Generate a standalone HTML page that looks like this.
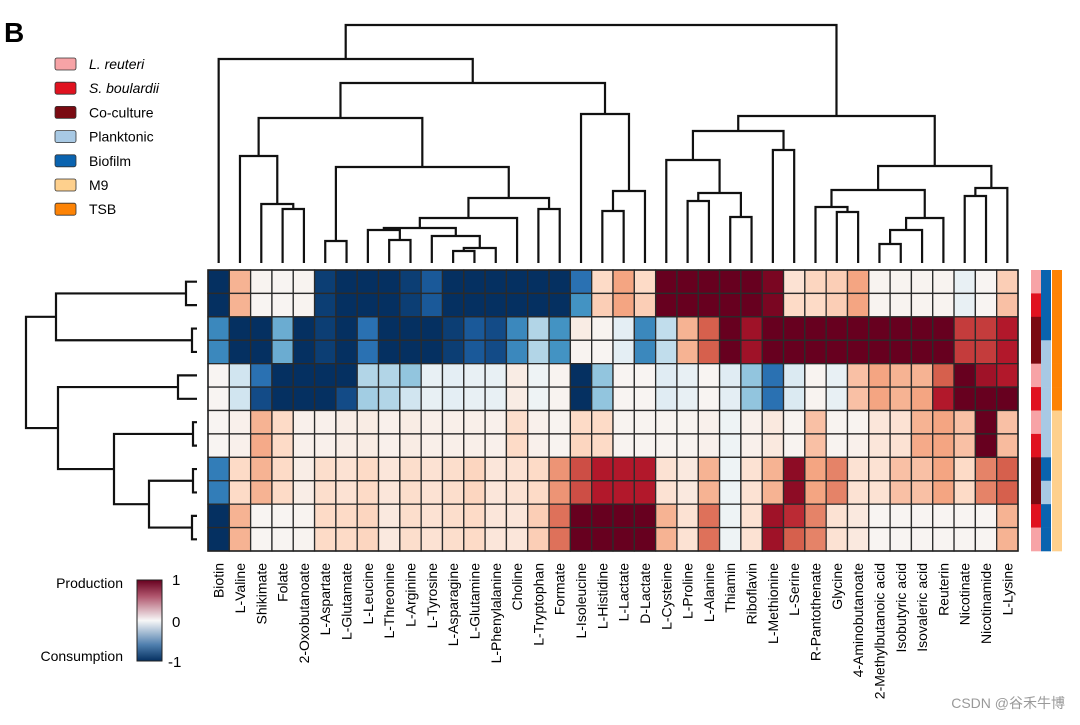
<!DOCTYPE html>
<html><head><meta charset="utf-8"><style>
html,body{margin:0;padding:0;background:#fff;}
svg text{font-family:"Liberation Sans","Noto Sans CJK SC",sans-serif;}
</style></head><body>
<svg id="chart" width="1080" height="720" viewBox="0 0 1080 720" xmlns="http://www.w3.org/2000/svg">
<defs><linearGradient id="cbar" x1="0" y1="1" x2="0" y2="0">
<stop offset="0" stop-color="#053061"/><stop offset="0.2" stop-color="#4f7fae"/><stop offset="0.5" stop-color="#f7f7f7"/><stop offset="0.8" stop-color="#b0566d"/><stop offset="1" stop-color="#67001f"/>
</linearGradient></defs>
<text x="4" y="42" font-size="28" font-weight="bold">B</text>
<g id="legend"></g>
<g id="topdendro"></g>
<g id="leftdendro"></g>
<g id="cells"></g>
<g id="annot"></g>
<g id="xlabels"></g>
<g>
<rect x="137" y="580" width="25" height="81" fill="url(#cbar)" stroke="#222" stroke-width="1"/>
<text x="172" y="585" font-size="15">1</text>
<text x="172" y="627" font-size="15">0</text>
<text x="168" y="667" font-size="15">-1</text>
<text x="123" y="588" font-size="14" text-anchor="end">Production</text>
<text x="123" y="661" font-size="14" text-anchor="end">Consumption</text>
</g>
<text x="1065" y="708" font-size="14" fill="#999" text-anchor="end">CSDN @谷禾牛博</text>
</svg>
<script>
const columns = ["Biotin","L-Valine","Shikimate","Folate","2-Oxobutanoate","L-Aspartate","L-Glutamate","L-Leucine","L-Threonine","L-Arginine","L-Tyrosine","L-Asparagine","L-Glutamine","L-Phenylalanine","Choline","L-Tryptophan","Formate","L-Isoleucine","L-Histidine","L-Lactate","D-Lactate","L-Cysteine","L-Proline","L-Alanine","Thiamin","Riboflavin","L-Methionine","L-Serine","R-Pantothenate","Glycine","4-Aminobutanoate","2-Methylbutanoic acid","Isobutyric acid","Isovaleric acid","Reuterin","Nicotinate","Nicotinamide","L-Lysine"];
const row0 = [-1,0.35,0.03,0.02,0.03,-0.95,-1,-1,-1,-0.95,-0.85,-1,-1,-1,-1,-1,-1,-0.75,0.2,0.4,0.2,1,1,1,1,1,0.95,0.15,0.22,0.25,0.4,0.03,0.03,0.03,0.03,-0.08,0.02,0.25];
const row1 = [-1,0.35,0.02,0.02,0.03,-0.95,-1,-1,-1,-0.95,-0.85,-1,-1,-1,-1,-1,-1,-0.6,0.25,0.4,0.25,1,1,1,1,1,0.95,0.2,0.2,0.25,0.4,0.03,0.03,0.03,0.03,-0.08,0.02,0.3];
const row2 = [-0.65,-1,-1,-0.5,-1,-0.95,-1,-0.75,-1,-1,-1,-0.95,-0.85,-0.9,-0.65,-0.3,-0.6,0.08,0.03,-0.1,-0.65,-0.25,0.35,0.6,1,0.85,1,1,1,1,1,1,1,1,1,0.7,0.7,0.8];
const row3 = [-0.65,-1,-1,-0.5,-1,-0.95,-1,-0.75,-1,-1,-1,-0.95,-0.85,-0.9,-0.65,-0.3,-0.6,0.03,0.02,-0.1,-0.65,-0.25,0.35,0.6,1,0.85,1,1,1,1,1,1,1,1,1,0.7,0.7,0.8];
const row4 = [0.02,-0.2,-0.75,-1,-1,-1,-1,-0.3,-0.3,-0.4,-0.08,-0.1,-0.08,-0.08,0.08,-0.05,0.03,-1,-0.4,0.02,0.02,-0.12,-0.08,0.02,-0.12,-0.4,-0.75,-0.15,0.03,-0.08,0.3,0.4,0.35,0.35,0.6,1,0.85,0.8];
const row5 = [0.02,-0.2,-0.9,-1,-1,-1,-0.9,-0.35,-0.3,-0.2,-0.08,-0.1,-0.08,-0.08,0.08,-0.05,0.03,-1,-0.4,0.02,0.02,-0.12,-0.08,0.02,-0.1,-0.4,-0.75,-0.15,0.03,-0.08,0.3,0.4,0.35,0.4,0.8,1,1,1];
const row6 = [0.02,0.05,0.35,0.2,0.05,0.05,0.07,0.08,0.05,0.08,0.06,0.06,0.06,0.05,0.18,0.05,0.03,0.2,0.2,0.03,0.03,0.03,0.03,0.05,-0.05,0.05,0.1,0.03,0.3,0.03,0.03,0.12,0.15,0.35,0.4,0.3,1,0.3];
const row7 = [0.02,0.05,0.38,0.2,0.05,0.05,0.07,0.08,0.05,0.08,0.06,0.06,0.06,0.05,0.2,0.05,0.03,0.22,0.2,0.03,0.03,0.03,0.03,0.05,-0.05,0.05,0.1,0.03,0.3,0.03,0.05,0.12,0.15,0.38,0.4,0.3,1,0.32];
const row8 = [-0.7,0.2,0.35,0.2,0.07,0.18,0.15,0.2,0.12,0.18,0.15,0.18,0.22,0.12,0.15,0.2,0.45,0.65,0.8,0.8,0.8,0.15,0.1,0.35,-0.05,0.15,0.35,0.9,0.4,0.5,0.15,0.15,0.3,0.3,0.4,0.2,0.5,0.6];
const row9 = [-0.7,0.2,0.35,0.2,0.07,0.18,0.15,0.2,0.12,0.18,0.15,0.18,0.22,0.12,0.15,0.2,0.45,0.65,0.8,0.8,0.8,0.15,0.1,0.35,-0.05,0.15,0.35,0.9,0.4,0.5,0.15,0.15,0.3,0.3,0.4,0.2,0.5,0.6];
const row10 = [-1,0.35,0.02,0.02,0.03,0.2,0.2,0.22,0.1,0.18,0.15,0.18,0.2,0.12,0.12,0.25,0.55,1,1,1,1,0.35,0.15,0.55,-0.05,0.15,0.85,0.75,0.5,0.15,0.1,0.02,0.02,0.02,0.02,0.02,0.02,0.35];
const row11 = [-1,0.35,0.02,0.02,0.03,0.2,0.2,0.22,0.1,0.18,0.15,0.18,0.2,0.12,0.12,0.25,0.55,1,1,1,1,0.35,0.15,0.55,-0.05,0.15,0.85,0.6,0.5,0.15,0.1,0.02,0.02,0.02,0.02,0.02,0.02,0.35];
const matrix = [row0,row1,row2,row3,row4,row5,row6,row7,row8,row9,row10,row11];
const strain = ["LR","SB","CC","CC","LR","SB","LR","SB","CC","CC","SB","LR"];
const lifestyle = ["BF","BF","BF","PL","PL","PL","PL","PL","BF","PL","BF","BF"];
const media = ["TSB","TSB","TSB","TSB","TSB","TSB","M9","M9","M9","M9","M9","M9"];
const legendLabels = ["L. reuteri","S. boulardii","Co-culture","Planktonic","Biofilm","M9","TSB"];
// dendrogram merges: [left, right, height]
const colTree = [[0,[[[1,[2,[3,4,54],59],107],[[5,6,22],[[[[7,[8,9,23],33],[10,[[11,12,12],13,15],27],35],14,45],[15,16,54],65],96],145],[17,[[18,19,52],20,72],149],180],204],[[[21,[[22,23,62],[24,25,46],70],103],[26,27,113],132],[[[28,[29,30,51],56],[[[31,32,19],33,33],34,45],73],[[35,36,67],37,75],97],147],238];
const rowTree = [[[0,1,11],[2,3,5],141],[[4,5,19],[[6,7,4],[[8,9,4],[10,11,5],48],83],139],171];

const NS="http://www.w3.org/2000/svg";
const X0=208, Y0=270, GW=810, GH=281;
const cw=GW/columns.length, ch=GH/matrix.length;
const xPos=i=>X0+cw*(i+0.5), yPos=r=>Y0+ch*(r+0.5);
const stops=[[-1,[5,48,97]],[-0.8,[33,102,172]],[-0.6,[67,147,195]],[-0.4,[146,197,222]],[-0.2,[209,229,240]],[0,[247,247,247]],[0.2,[253,219,199]],[0.4,[244,165,130]],[0.6,[214,96,77]],[0.8,[178,24,43]],[1,[103,0,31]]];
function color(v){v=Math.max(-1,Math.min(1,v));for(let i=0;i<stops.length-1;i++){const a=stops[i],b=stops[i+1];if(v<=b[0]){const t=(v-a[0])/(b[0]-a[0]);return "rgb("+a[1].map((c,k)=>Math.round(c+(b[1][k]-c)*t)).join(",")+")";}}return "rgb(103,0,31)";}
function mk(tag,attrs,parent){const e=document.createElementNS(NS,tag);for(const k in attrs)e.setAttribute(k,attrs[k]);parent.appendChild(e);return e;}

const cells=document.getElementById("cells");
matrix.forEach((row,r)=>row.forEach((v,c)=>{
  const e=mk("rect",{x:X0+c*cw,y:Y0+r*ch,width:cw,height:ch,fill:color(v),stroke:"#2b2b2b","stroke-width":1.3},cells);
  
  
}));
const ob=mk("rect",{x:X0,y:Y0,width:GW,height:GH,fill:"none",stroke:"#222","stroke-width":1.5},cells);



const xl=document.getElementById("xlabels");
columns.forEach((name,i)=>{
  const x=xPos(i)+5,y=563;
  const t=mk("text",{x:x,y:y,"font-size":14,"text-anchor":"end",transform:"rotate(-90 "+x+" "+y+")"},xl);
  t.textContent=name;
  
  
});

// top dendrogram
const td=document.getElementById("topdendro");
const TBASE=263;
function drawTop(n){
  if(typeof n==="number"){return [xPos(n),TBASE];}
  const a=drawTop(n[0]),b=drawTop(n[1]),y=TBASE-n[2];
  const p=mk("path",{d:"M"+a[0]+","+a[1]+"V"+y+"H"+b[0]+"V"+b[1],fill:"none",stroke:"#111","stroke-width":2.2},td);
  
  
  return [(a[0]+b[0])/2,y];
}
drawTop(colTree);
// left dendrogram
const ld=document.getElementById("leftdendro");
const LBASE=197;
function drawLeft(n){
  if(typeof n==="number"){return [LBASE,yPos(n)];}
  const a=drawLeft(n[0]),b=drawLeft(n[1]),x=LBASE-n[2];
  const p=mk("path",{d:"M"+a[0]+","+a[1]+"H"+x+"V"+b[1]+"H"+b[0],fill:"none",stroke:"#111","stroke-width":2.2},ld);
  
  
  return [x,(a[1]+b[1])/2];
}
drawLeft(rowTree);

// annotations
const annCol={LR:"#f7a3a6",SB:"#e0121f",CC:"#7a0a12",PL:"#a8c9e4",BF:"#0a63af",M9:"#fed08d",TSB:"#fd8305"};
const an=document.getElementById("annot");
[[strain,1031,"strain"],[lifestyle,1041,"lifestyle"],[media,1052,"media"]].forEach(([arr,x,nm])=>{
  arr.forEach((v,r)=>{
    const e=mk("rect",{x:x,y:Y0+r*ch,width:10,height:ch+0.3,fill:annCol[v]},an);
    
    
  });
});

// legend
const lg=document.getElementById("legend");
const legCols=["#f7a3a6","#e0121f","#7a0a12","#a8c9e4","#0a63af","#fed08d","#fd8305"];
legendLabels.forEach((lab,i)=>{
  const y=58+i*24.2;
  const s=mk("rect",{x:55,y:y,width:21,height:12,rx:2,fill:legCols[i],stroke:"#333","stroke-width":0.8},lg);
  
  
  const t=mk("text",{x:89,y:y+11,"font-size":14,"font-style":i<2?"italic":"normal"},lg);
  t.textContent=lab;
  
  
});
</script>
</body></html>
